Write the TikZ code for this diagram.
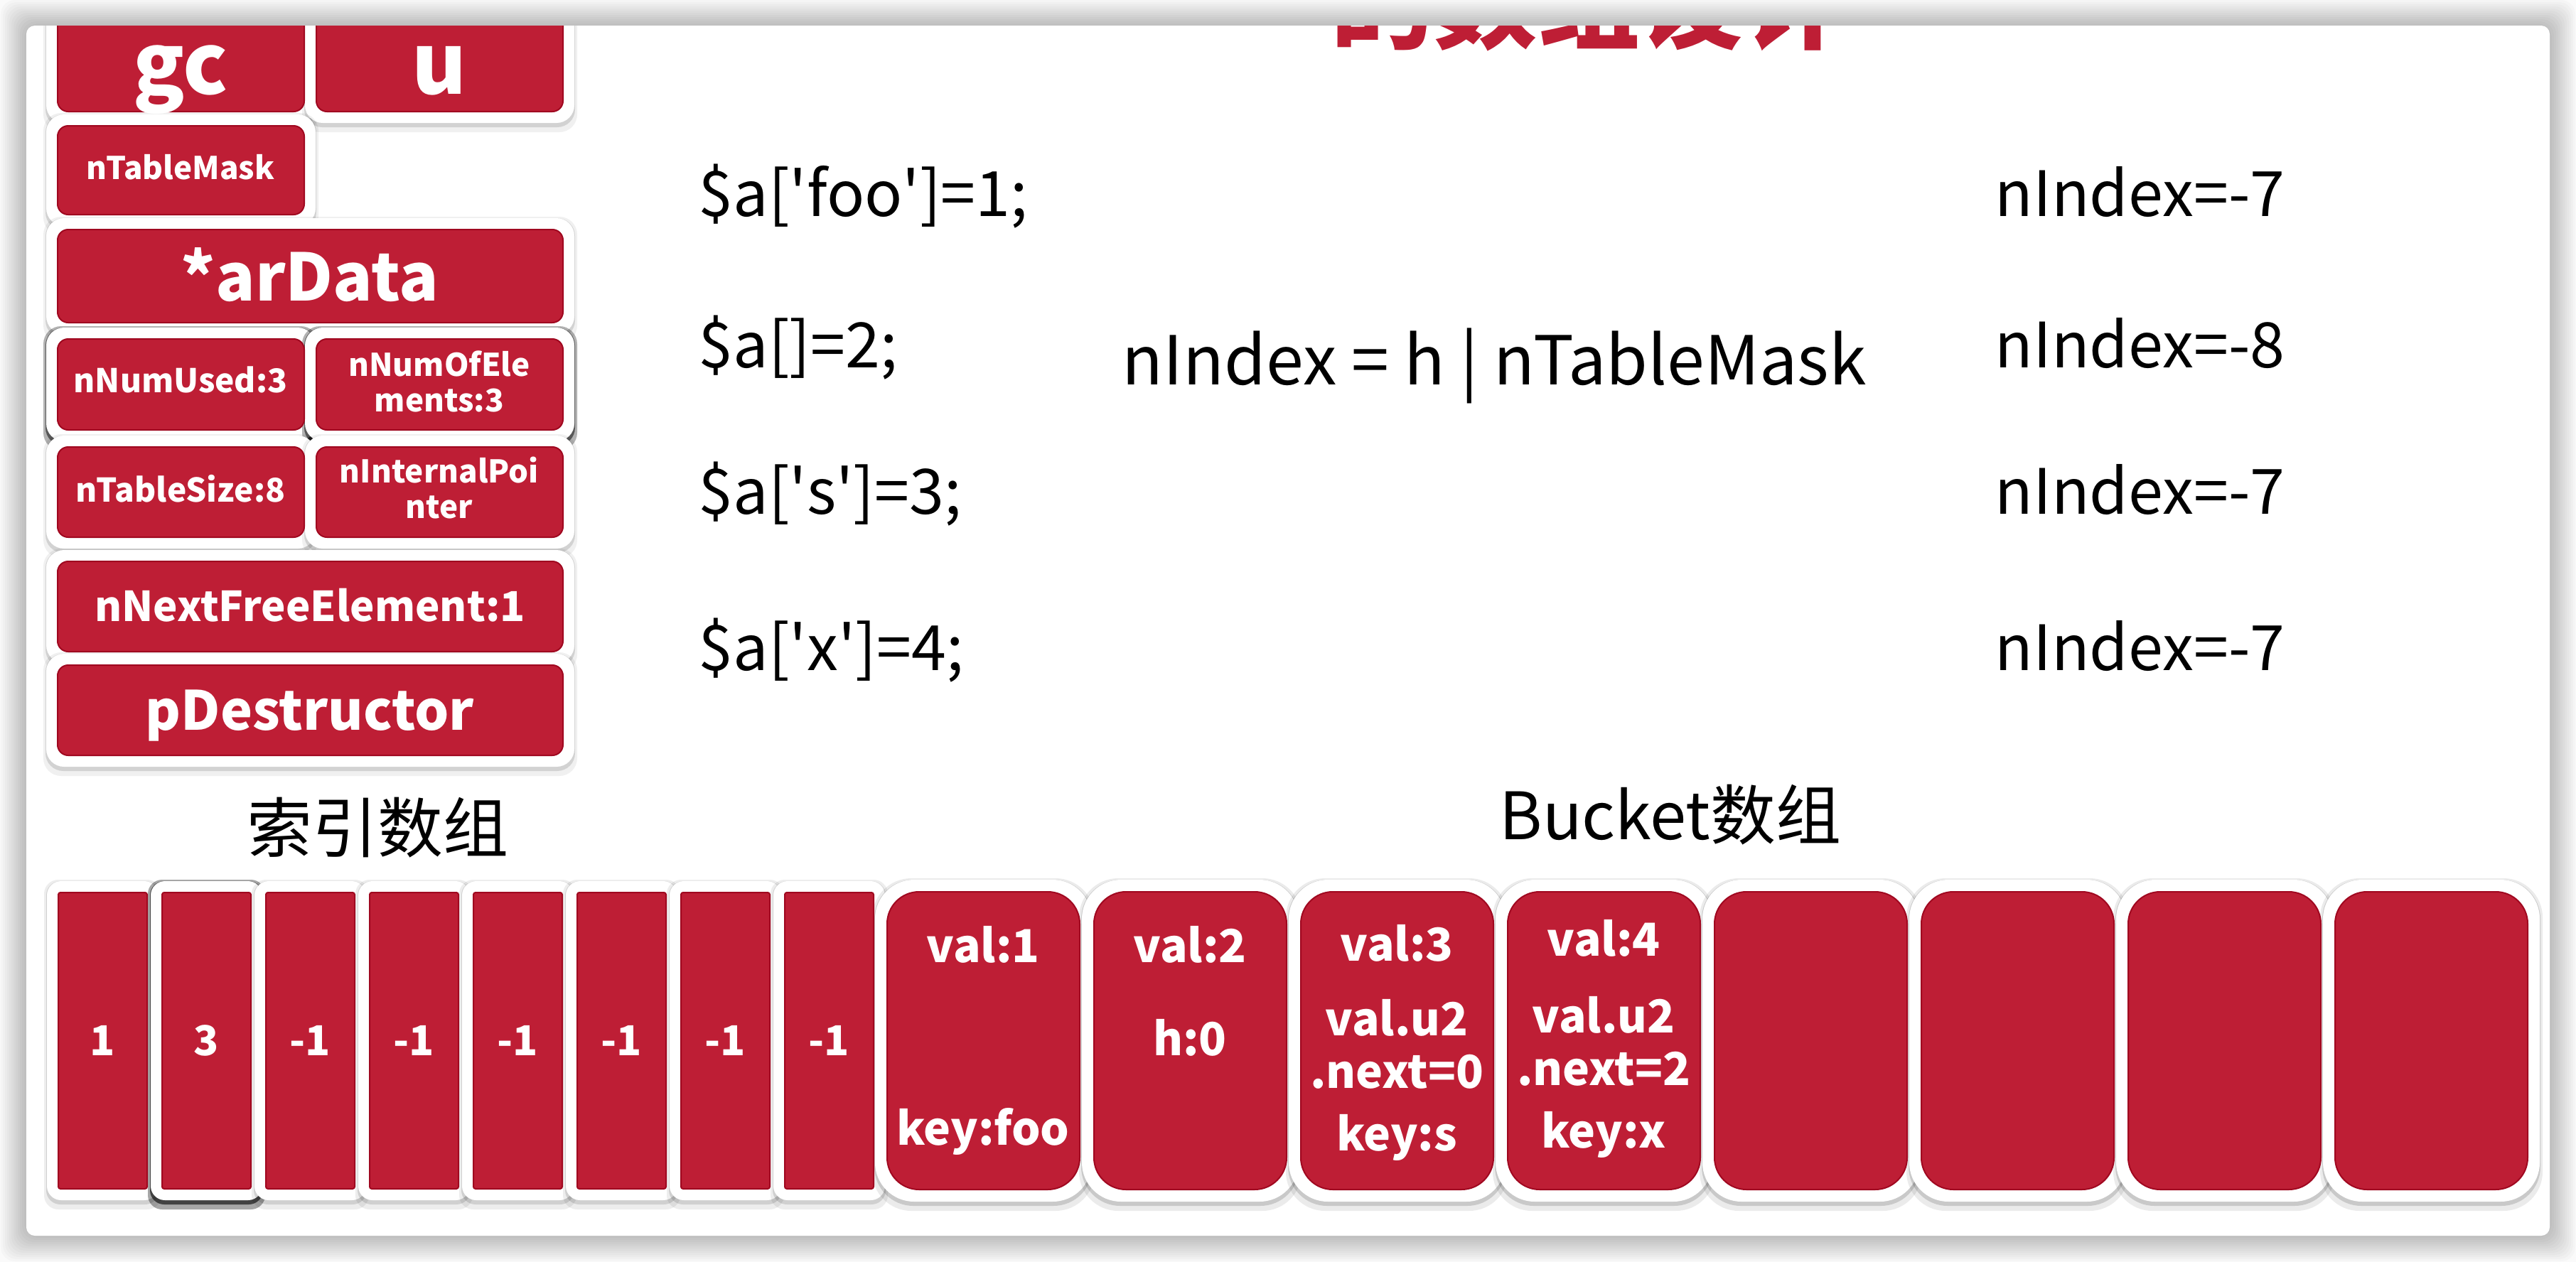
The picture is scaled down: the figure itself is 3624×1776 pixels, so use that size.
\documentclass[tikz,border=0pt]{standalone}
\usepackage{fontspec}
\setmainfont{Noto Sans CJK SC}
\usetikzlibrary{fit}
\definecolor{hred}{RGB}{190,30,53}
\definecolor{hredd}{RGB}{160,8,32}
\newcommand{\fpx}[1]{\fontsize{\fpeval{(#1)*0.28453}pt}{\fpeval{(#1)*0.28453*1.15}pt}\selectfont}
\newcommand{\fpxl}[2]{\fontsize{\fpeval{(#1)*0.28453}pt}{\fpeval{(#2)*0.28453}pt}\selectfont}
\newcommand{\sq}{\textquotesingle}
% white frame with soft shadow: x1 y1 x2 y2 pad radius op1 op2
\newcommand{\wfr}[8]{%
  \fill[black,opacity=#8,rounded corners=#6] (#1-#5-4,#2-#5-2) rectangle (#3+#5+4,#4+#5+13);
  \fill[black,opacity=#7,rounded corners=#6] (#1-#5-1,#2-#5) rectangle (#3+#5+1,#4+#5+6);
  \fill[white,rounded corners=#6] (#1-#5,#2-#5) rectangle (#3+#5,#4+#5);}
\tikzset{
  redbox/.style={fill=hred, draw=hredd, line width=0.2mm, rounded corners=1.5mm, inner sep=0pt},
  idxbox/.style={redbox, rounded corners=0.3mm},
  bktbox/.style={redbox, rounded corners=4.5mm},
  lbl/.style={text=white, inner sep=0pt, align=center},
  codetxt/.style={text=black, inner sep=0pt, font=\fpx{88}},
  captxt/.style={text=black, inner sep=0pt, font=\fpx{92}},
}
\begin{document}
\begin{tikzpicture}[x=0.1mm,y=-0.1mm]
\useasboundingbox (0,0) rectangle (3624,1776);
\fill[gray!4] (0,0) rectangle (3624,1776);
\foreach \i in {1,...,12}
  {\fill[black,opacity=0.02,rounded corners=2mm] (37-3*\i,36-3*\i) rectangle (3587+3*\i,1739+3*\i);}
\fill[white,rounded corners=1.2mm] (37,36) rectangle (3587,1739);
\begin{scope}
\clip[rounded corners=1.2mm] (37,36) rectangle (3587,1739);

% cropped title
\node[text=hred, inner sep=0pt, anchor=base west, font=\fpx{145}\bfseries] (title) at (1872,57) {的数组设计};

% ---------- zend_array structure ----------
\wfr{81}{-20}{428}{157}{16}{2.5mm}{0.12}{0.06}
\wfr{445}{-20}{792}{157}{16}{2.5mm}{0.12}{0.06}
\wfr{81}{177}{428}{302}{16}{2.5mm}{0.12}{0.06}
\wfr{81}{323}{792}{454}{16}{2.5mm}{0.12}{0.06}
\wfr{81}{477}{428}{605}{16}{2.5mm}{0.5}{0.3}
\wfr{445}{477}{792}{605}{16}{2.5mm}{0.5}{0.3}
\wfr{81}{629}{428}{756}{16}{2.5mm}{0.12}{0.06}
\wfr{445}{629}{792}{756}{16}{2.5mm}{0.12}{0.06}
\wfr{81}{790}{792}{917}{16}{2.5mm}{0.12}{0.06}
\wfr{81}{936}{792}{1063}{16}{2.5mm}{0.12}{0.06}

\node[redbox, fit={(81,-20) (428,157)}] (gc) {};
\node[redbox, fit={(445,-20) (792,157)}] (u) {};
\node[redbox, fit={(81,177) (428,302)}] (mask) {};
\node[redbox, fit={(81,323) (792,454)}] (ardata) {};
\node[redbox, fit={(81,477) (428,605)}] (used) {};
\node[redbox, fit={(445,477) (792,605)}] (numel) {};
\node[redbox, fit={(81,629) (428,756)}] (tsize) {};
\node[redbox, fit={(445,629) (792,756)}] (intptr) {};
\node[redbox, fit={(81,790) (792,917)}] (nextfree) {};
\node[redbox, fit={(81,936) (792,1063)}] (pdestr) {};

\node[lbl, anchor=base, font=\fpx{118}\bfseries] (gc-t) at (254,132) {gc};
\node[lbl, anchor=base, font=\fpx{118}\bfseries] (u-t) at (618,132) {u};
\node[lbl, anchor=base, font=\fpx{44}\bfseries] (mask-t) at (254,252) {nTableMask};
\node[lbl, anchor=base, font=\fpx{92}\bfseries] (ardata-t) at (436,423) {*arData};
\node[lbl, anchor=base, font=\fpx{46}\bfseries] (used-t) at (254,552) {nNumUsed:3};
\node[lbl, anchor=base, font=\fpxl{44}{50}\bfseries] (numel-t) at (618,579) {nNumOfEle\\ments:3};
\node[lbl, anchor=base, font=\fpx{46}\bfseries] (tsize-t) at (254,706) {nTableSize:8};
\node[lbl, anchor=base, font=\fpxl{44}{50}\bfseries] (intptr-t) at (618,729) {nInternalPoi\\nter};
\node[lbl, anchor=base, font=\fpx{58}\bfseries] (nextfree-t) at (436,874) {nNextFreeElement:1};
\node[lbl, anchor=base, font=\fpx{76}\bfseries] (pdestr-t) at (436,1027) {pDestructor};

% ---------- code lines ----------
\node[codetxt, anchor=base west] (c1) at (982,304) {\$a[\sq foo\sq]=1;};
\node[codetxt, anchor=base west] (c2) at (982,517) {\$a[]=2;};
\node[codetxt, anchor=base west] (c3) at (982,723) {\$a[\sq s\sq]=3;};
\node[codetxt, anchor=base west] (c4) at (982,943) {\$a[\sq x\sq]=4;};
\node[codetxt, anchor=base, font=\fpx{95}] (formula) at (2102,541) {nIndex = h | nTableMask};
\node[codetxt, anchor=base west] (r1) at (2806,304) {nIndex=-7};
\node[codetxt, anchor=base west] (r2) at (2806,517) {nIndex=-8};
\node[codetxt, anchor=base west] (r3) at (2806,723) {nIndex=-7};
\node[codetxt, anchor=base west] (r4) at (2806,943) {nIndex=-7};

% ---------- captions ----------
\node[captxt, anchor=center] (idxcap) at (531,1165) {索引数组};
\node[captxt, anchor=center] (bktcap) at (2350,1147) {Bucket数组};

% ---------- index array ----------
\foreach \i in {0,...,7} {
  \ifnum\i=1
    \wfr{82+146*\i}{1256}{207+146*\i}{1673}{16}{2mm}{0.6}{0.35}
  \else
    \wfr{82+146*\i}{1256}{207+146*\i}{1673}{16}{2mm}{0.12}{0.07}
  \fi
}
\foreach \i in {0,...,7} {
  \wfr{1248+291*\i}{1255}{1519+291*\i}{1674}{17}{5.5mm}{0.14}{0.08}
}

\foreach \i/\v in {0/1,1/3,2/-1,3/-1,4/-1,5/-1,6/-1,7/-1} {
  \node[idxbox, fit={(82+146*\i,1256) (207+146*\i,1673)}] (idx\i) {};
  \node[lbl, anchor=base, font=\fpx{58}\bfseries] (idxt\i) at (144.5+146*\i,1485) {\v};
}

% ---------- bucket array ----------
\foreach \i in {0,...,7} {
  \node[bktbox, fit={(1248+291*\i,1255) (1519+291*\i,1674)}] (bkt\i) {};
}

\tikzset{bl/.style={lbl, anchor=base, font=\fpx{64}\bfseries}}
\node[bl] (b0a) at (1383,1354) {val:1};
\node[bl] (b0b) at (1383,1611) {key:foo};
\node[bl] (b1a) at (1674,1354) {val:2};
\node[bl] (b1b) at (1674,1485) {h:0};
\node[bl] (b2a) at (1965,1352) {val:3};
\node[bl] (b2b) at (1965,1457) {val.u2};
\node[bl] (b2c) at (1965,1531) {.next=0};
\node[bl] (b2d) at (1965,1619) {key:s};
\node[bl] (b3a) at (2256,1345) {val:4};
\node[bl] (b3b) at (2256,1453) {val.u2};
\node[bl] (b3c) at (2256,1527) {.next=2};
\node[bl] (b3d) at (2256,1615) {key:x};
\end{scope}
\end{tikzpicture}
\end{document}
